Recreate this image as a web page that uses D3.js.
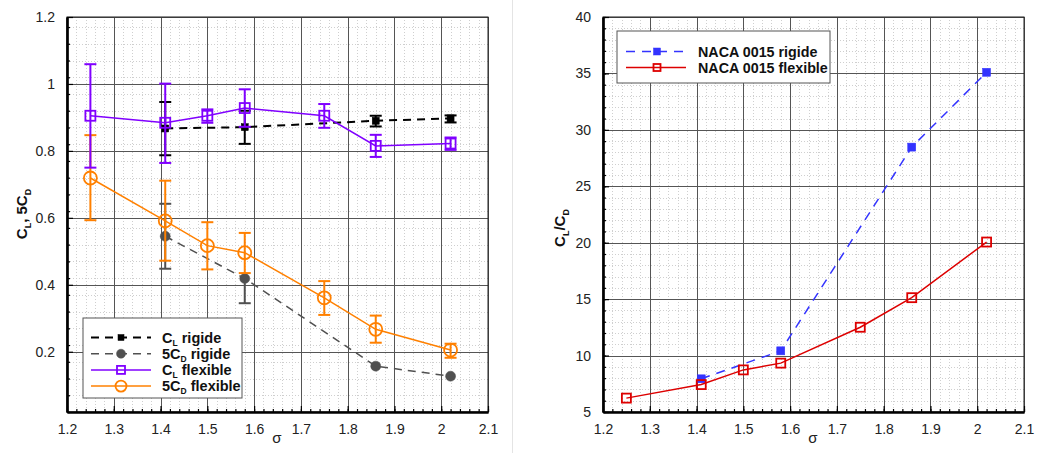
<!DOCTYPE html>
<html><head><meta charset="utf-8">
<script src="https://cdn.jsdelivr.net/npm/d3@7"></script>
<style>
body{margin:0;background:#fff;}
text{font-family:"Liberation Sans",Arial,sans-serif;}
</style></head>
<body><svg id="c" width="1039" height="453"></svg>
<script>
// ---- Data ----
const sigmaFlex = [1.25, 1.41, 1.5, 1.58, 1.75, 1.86, 2.02];
const sigmaRigid = [1.41, 1.58, 1.86, 2.02];
const clRigid = [0.867, 0.871, 0.890, 0.897];
const clRigidLo = [0.787, 0.821, 0.873, 0.885];
const clRigidHi = [0.946, 0.920, 0.905, 0.906];
const cdRigid = [0.545, 0.419, 0.157, 0.127];
const cdRigidLo = [0.448, 0.345, 0.157, 0.127];
const cdRigidHi = [0.642, 0.419, 0.157, 0.127];
const clFlex = [0.905, 0.884, 0.905, 0.928, 0.905, 0.815, 0.822];
const clFlexLo = [0.750, 0.764, 0.884, 0.872, 0.869, 0.782, 0.803];
const clFlexHi = [1.059, 1.001, 0.924, 0.984, 0.940, 0.848, 0.840];
const cdFlex = [0.719, 0.591, 0.517, 0.496, 0.361, 0.267, 0.205];
const cdFlexLo = [0.593, 0.472, 0.446, 0.435, 0.310, 0.227, 0.182];
const cdFlexHi = [0.847, 0.711, 0.587, 0.555, 0.411, 0.308, 0.224];
const ldRigid = [7.94, 10.42, 28.47, 35.1];
const ldFlex = [6.23, 7.43, 8.73, 9.33, 12.51, 15.13, 20.06];
const xTicks = [1.2, 1.3, 1.4, 1.5, 1.6, 1.7, 1.8, 1.9, 2, 2.1];
const yTicksL = [0.2, 0.4, 0.6, 0.8, 1, 1.2];
const yTicksR = [5, 10, 15, 20, 25, 30, 35, 40];

const svg = d3.select("#c");
const PURPLE = "#8000ff", ORANGE = "#ff8000", BLACK = "#000", GREY = "#505050", BLUE = "#3333ff", RED = "#dd0000";

svg.append("line").attr("x1",512.5).attr("x2",512.5).attr("y1",0).attr("y2",453).attr("stroke","#e4e4e4");

function panel(cfg){
  const g = svg.append("g");
  const x = d3.scaleLinear().domain([1.2,2.1]).range([cfg.x0,cfg.x1]);
  const y = d3.scaleLinear().domain(cfg.yDom).range([cfg.y1,cfg.y0]);
  const xm = d3.range(1.2,2.1001,0.02);
  const ym = d3.range(cfg.yDom[0],cfg.yDom[1]+1e-6,cfg.yMinor);
  g.selectAll(".xm").data(xm).join("line")
    .attr("x1",d=>Math.round(x(d))+0.5).attr("x2",d=>Math.round(x(d))+0.5)
    .attr("y1",cfg.y0).attr("y2",cfg.y1).attr("stroke","#cfcfcf").attr("stroke-dasharray","1,2");
  g.selectAll(".ym").data(ym).join("line")
    .attr("y1",d=>Math.round(y(d))+0.5).attr("y2",d=>Math.round(y(d))+0.5)
    .attr("x1",cfg.x0).attr("x2",cfg.x1).attr("stroke","#cfcfcf").attr("stroke-dasharray","1,2");
  g.selectAll(".xg").data(xTicks).join("line")
    .attr("x1",d=>Math.round(x(d))+0.5).attr("x2",d=>Math.round(x(d))+0.5)
    .attr("y1",cfg.y0).attr("y2",cfg.y1).attr("stroke","#555");
  g.selectAll(".yg").data(cfg.yTicks).join("line")
    .attr("y1",d=>Math.round(y(d))+0.5).attr("y2",d=>Math.round(y(d))+0.5)
    .attr("x1",cfg.x0).attr("x2",cfg.x1).attr("stroke","#555");
  g.append("rect").attr("x",cfg.x0).attr("y",cfg.y0).attr("width",cfg.x1-cfg.x0).attr("height",cfg.y1-cfg.y0)
    .attr("fill","none").attr("stroke","#222").attr("stroke-width",1);
  const fmt = d=>String(+d.toFixed(2));
  const bx = g.append("g").attr("transform",`translate(0,${cfg.y1})`)
    .call(d3.axisBottom(x).tickValues(xTicks).tickFormat(fmt).tickSizeInner(-6).tickSizeOuter(0).tickPadding(12));
  const bxm = g.append("g").attr("transform",`translate(0,${cfg.y1})`)
    .call(d3.axisBottom(x).tickValues(xm).tickFormat("").tickSizeInner(-3).tickSizeOuter(0));
  const ly = g.append("g").attr("transform",`translate(${cfg.x0},0)`)
    .call(d3.axisLeft(y).tickValues(cfg.yTicks).tickFormat(fmt).tickSizeInner(-6).tickSizeOuter(0).tickPadding(12));
  const lym = g.append("g").attr("transform",`translate(${cfg.x0},0)`)
    .call(d3.axisLeft(y).tickValues(ym).tickFormat("").tickSizeInner(-3).tickSizeOuter(0));
  [bx,bxm,ly,lym].forEach(a=>{
    a.select(".domain").attr("stroke","#000").attr("stroke-width",2.2);
    a.selectAll(".tick line").attr("stroke","#000").attr("stroke-width",1.2);
    a.selectAll("text").attr("font-size",14).attr("fill","#222");
  });
  return {g,x,y};
}

function series(p, xs, ys, opt){
  const line = d3.line().x((d,i)=>p.x(xs[i])).y(d=>p.y(d));
  p.g.append("path").datum(ys).attr("d",line).attr("fill","none").attr("stroke",opt.color)
    .attr("stroke-width",opt.width||1.5).attr("stroke-dasharray",opt.dash||null);
  if(opt.lo){
    const eg = p.g.append("g").attr("stroke",opt.color).attr("stroke-width",2);
    xs.forEach((xv,i)=>{
      const cx = p.x(xv);
      if(opt.hi[i]-opt.lo[i] < 0.001) return;
      eg.append("line").attr("x1",cx).attr("x2",cx).attr("y1",p.y(opt.lo[i])).attr("y2",p.y(opt.hi[i]));
      if(opt.lo[i] < ys[i]-0.001)
        eg.append("line").attr("x1",cx-6).attr("x2",cx+6).attr("y1",p.y(opt.lo[i])).attr("y2",p.y(opt.lo[i]));
      if(opt.hi[i] > ys[i]+0.001)
        eg.append("line").attr("x1",cx-6).attr("x2",cx+6).attr("y1",p.y(opt.hi[i])).attr("y2",p.y(opt.hi[i]));
    });
  }
  xs.forEach((xv,i)=>marker(p.g, p.x(xv), p.y(ys[i]), opt));
}
function marker(g, cx, cy, opt){
  const s = opt.size;
  if(opt.shape==="square"){
    g.append("rect").attr("x",cx-s/2).attr("y",cy-s/2).attr("width",s).attr("height",s)
      .attr("fill",opt.fill?opt.color:"none").attr("stroke",opt.color).attr("stroke-width",opt.fill?0.5:1.8);
  } else {
    g.append("circle").attr("cx",cx).attr("cy",cy).attr("r",s/2)
      .attr("fill",opt.fill?opt.color:"none").attr("stroke",opt.color).attr("stroke-width",opt.fill?0.5:1.8);
  }
}

// ---- Left panel ----
const L = panel({x0:67,x1:488,y0:17,y1:412,yDom:[0.02,1.2],yMinor:0.05,yTicks:yTicksL});
const optCLr = {color:BLACK,dash:"8,6",shape:"square",size:7,fill:true,width:2,lo:clRigidLo,hi:clRigidHi};
const optCDr = {color:GREY,dash:"8,6",shape:"circle",size:10,fill:true,width:1.5,lo:cdRigidLo,hi:cdRigidHi};
const optCLf = {color:PURPLE,shape:"square",size:10,fill:false,width:1.5,lo:clFlexLo,hi:clFlexHi};
const optCDf = {color:ORANGE,shape:"circle",size:13,fill:false,width:1.5,lo:cdFlexLo,hi:cdFlexHi};
series(L, sigmaRigid, cdRigid, optCDr);
series(L, sigmaFlex, cdFlex, optCDf);
series(L, sigmaRigid, clRigid, optCLr);
series(L, sigmaFlex, clFlex, optCLf);

const lg = L.g.append("g");
lg.append("rect").attr("x",83).attr("y",318).attr("width",159).attr("height",80).attr("fill","#fff").attr("stroke","#555");
const legL = [
  {o:optCLr, a:"C", sub:"L", b:" rigide"},
  {o:optCDr, a:"5C", sub:"D", b:" rigide"},
  {o:optCLf, a:"C", sub:"L", b:" flexible"},
  {o:optCDf, a:"5C", sub:"D", b:" flexible"}
];
legL.forEach((e,i)=>{
  const yy = 337.5 + i*16.2;
  lg.append("line").attr("x1",91).attr("x2",151).attr("y1",yy).attr("y2",yy).attr("stroke",e.o.color)
    .attr("stroke-width",e.o.width).attr("stroke-dasharray",e.o.dash||null);
  marker(lg,121,yy,Object.assign({},e.o,{size:e.o.shape==="circle"?(e.o.fill?9:11):(e.o.fill?6:8)}));
  const t = lg.append("text").attr("x",162).attr("y",yy+5).attr("font-size",14.5).attr("font-weight","bold").attr("fill","#111");
  t.append("tspan").text(e.a);
  t.append("tspan").attr("font-size",8.5).attr("dy",3).text(e.sub);
  t.append("tspan").attr("dy",-3).text(e.b);
});

const ylab = svg.append("text").attr("transform","translate(27,214) rotate(-90)").attr("text-anchor","middle")
  .attr("font-size",15).attr("font-weight","bold").attr("fill","#111");
ylab.append("tspan").text("C");
ylab.append("tspan").attr("font-size",9).attr("dy",4).text("L");
ylab.append("tspan").attr("dy",-4).text(", 5C");
ylab.append("tspan").attr("font-size",9).attr("dy",4).text("D");
svg.append("text").attr("x",277).attr("y",443).attr("text-anchor","middle").attr("font-size",15).attr("fill","#222").text("σ");

// ---- Right panel ----
const R = panel({x0:603,x1:1024,y0:17,y1:412,yDom:[5,40],yMinor:1,yTicks:yTicksR});
const optLDr = {color:BLUE,dash:"9,7",shape:"square",size:8,fill:true,width:1.5};
const optLDf = {color:RED,shape:"square",size:9,fill:false,width:1.5};
series(R, sigmaRigid, ldRigid, optLDr);
series(R, sigmaFlex, ldFlex, optLDf);

const rg = R.g.append("g");
rg.append("rect").attr("x",617).attr("y",31).attr("width",213).attr("height",52).attr("fill","#fff").attr("stroke","#555");
[{o:optLDr,t:"NACA 0015 rigide"},{o:optLDf,t:"NACA 0015 flexible"}].forEach((e,i)=>{
  const yy = 51.5 + i*16;
  rg.append("line").attr("x1",626).attr("x2",686).attr("y1",yy).attr("y2",yy).attr("stroke",e.o.color)
    .attr("stroke-width",e.o.width).attr("stroke-dasharray",e.o.dash||null);
  marker(rg,657,yy,Object.assign({},e.o,{size:7}));
  rg.append("text").attr("x",698).attr("y",yy+5).attr("font-size",14.3).attr("font-weight","bold").attr("fill","#111").text(e.t);
});

const rlab = svg.append("text").attr("transform","translate(565,228) rotate(-90)").attr("text-anchor","middle")
  .attr("font-size",15).attr("font-weight","bold").attr("fill","#111");
rlab.append("tspan").text("C");
rlab.append("tspan").attr("font-size",9).attr("dy",4).text("L");
rlab.append("tspan").attr("dy",-4).text("/C");
rlab.append("tspan").attr("font-size",9).attr("dy",4).text("D");
svg.append("text").attr("x",813).attr("y",443).attr("text-anchor","middle").attr("font-size",15).attr("fill","#222").text("σ");
</script></body></html>
